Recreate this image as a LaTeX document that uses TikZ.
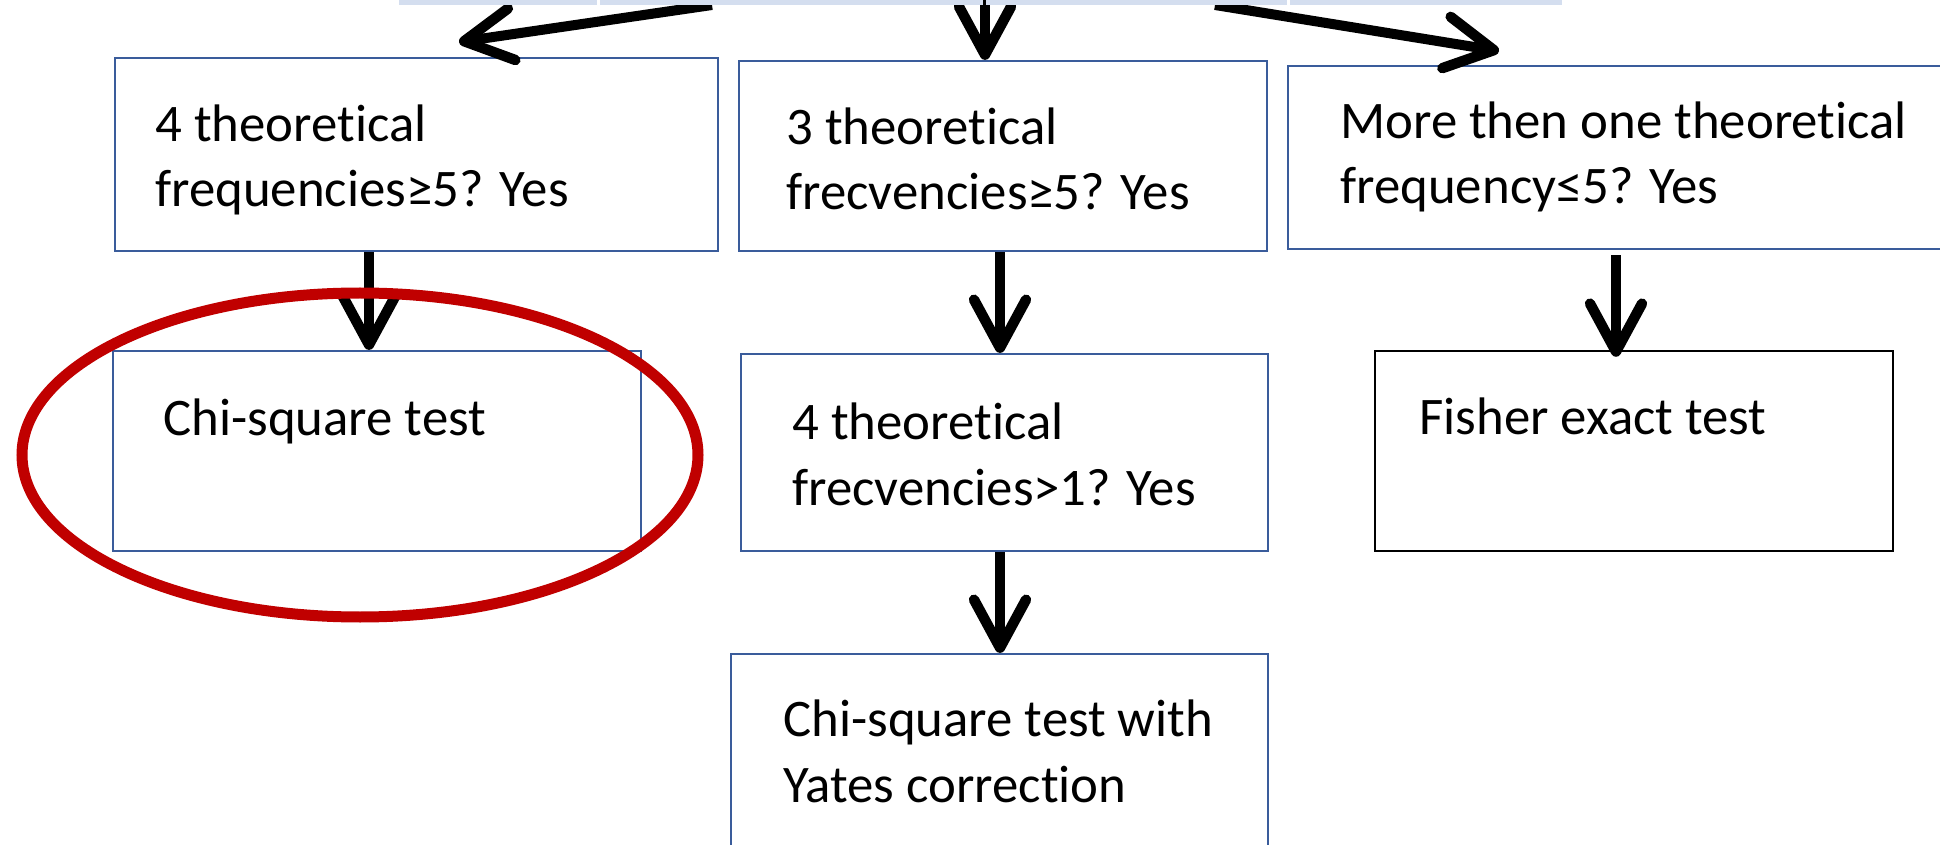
\documentclass[tikz,border=0pt]{standalone}
\usepackage{fontspec}
\setmainfont[Ligatures=NoCommon]{Carlito}
\usetikzlibrary{arrows.meta}
\definecolor{boxblue}{RGB}{58,92,155}
\definecolor{barblue}{RGB}{212,222,239}
\definecolor{ovalred}{RGB}{192,0,0}
\tikzset{
  bx/.style={draw=boxblue, line width=1.1pt, inner sep=0pt},
  bxk/.style={draw=black, line width=1.2pt, inner sep=0pt},
  cell/.style={fill=barblue, inner sep=0pt, minimum height=5pt},
  txt/.style={anchor=base west, inner sep=0pt, font=\fontsize{26.4}{32.8}\selectfont, align=left},
  arr/.style={line width=5pt, -{Straight Barb[length=24pt,width=26pt,line width=5.2pt,round]}},
}
\begin{document}
\begin{tikzpicture}[x=0.5pt,y=-0.5pt]
\useasboundingbox (0,0) rectangle (1940,845);
\clip (0,0) rectangle (1940,845);
\fill[white] (0,0) rectangle (1940,845);

% cut-off row at the top
\node[cell, minimum width=99pt]   (c1) at (498,0) {};
\node[cell, minimum width=191.5pt] (c2) at (791.5,0) {};
\node[cell, minimum width=150.5pt] (c3) at (1136.5,0) {};
\node[cell, minimum width=136pt]  (c4) at (1426,0) {};

% boxes
\node[bx, minimum width=301.5pt, minimum height=96.5pt] (A) at (416.5,154.5) {};
\node[bx, minimum width=264pt, minimum height=95pt] (B) at (1003,156) {};
\node[bx, minimum width=336pt, minimum height=91.5pt] (C) at (1624,157.5) {};
\node[bx, minimum width=264pt, minimum height=100pt] (D) at (377,451) {};
\node[bx, minimum width=263.5pt, minimum height=98.5pt] (E) at (1004.5,452.5) {};
\node[bxk, minimum width=259pt, minimum height=100pt] (F) at (1634,451) {};
\node[bx, minimum width=268.5pt, minimum height=123pt] (G) at (999.5,777) {};

% texts (base = baseline of the last line)
\node[txt] (tA) at (155,207) {4 theoretical\\frequencies≥5? Yes};
\node[txt] (tB) at (786,210) {3 theoretical\\frecvencies≥5? Yes};
\node[txt] (tC) at (1340,204) {More then one theoretical\\frequency≤5? Yes};
\node[txt] (tD) at (163,436) {Chi-square test};
\node[txt] (tE) at (792,505) {4 theoretical\\frecvencies>1? Yes};
\node[txt] (tF) at (1419,435) {Fisher exact test};
\node[txt] (tG) at (783,802) {Chi-square test with\\Yates correction};

% arrow ends
\coordinate (s1) at (712,5);
\coordinate (e1) at (459,42);
\coordinate (s2) at (985,0);
\coordinate (s3) at (1215,5);
\coordinate (e3) at (1499,51);

\draw[arr] (s1) -- (e1);
\draw[arr] (s2) -- (s2 |- B.north);
\draw[arr] (s3) -- (e3);
\draw[arr] (A.south -| 369,0) -- (D.north -| 369,0);
\draw[arr] (B.south -| 1000,0) -- (E.north -| 1000,0);
\draw[arr] (E.south -| 1000,0) -- (G.north -| 1000,0);
\draw[arr] ([yshift=-2.5pt]C.south -| 1616,0) -- ([yshift=-3.5pt]F.north -| 1616,0);

% redraw the top row over the arrow starts
\node[cell, minimum width=99pt]   at (c1) {};
\node[cell, minimum width=191.5pt] at (c2) {};
\node[cell, minimum width=150.5pt] at (c3) {};
\node[cell, minimum width=136pt]  at (c4) {};

% red highlight
\draw[ovalred, line width=5.5pt] (360,455) ellipse [x radius=338, y radius=162];
\end{tikzpicture}
\end{document}
